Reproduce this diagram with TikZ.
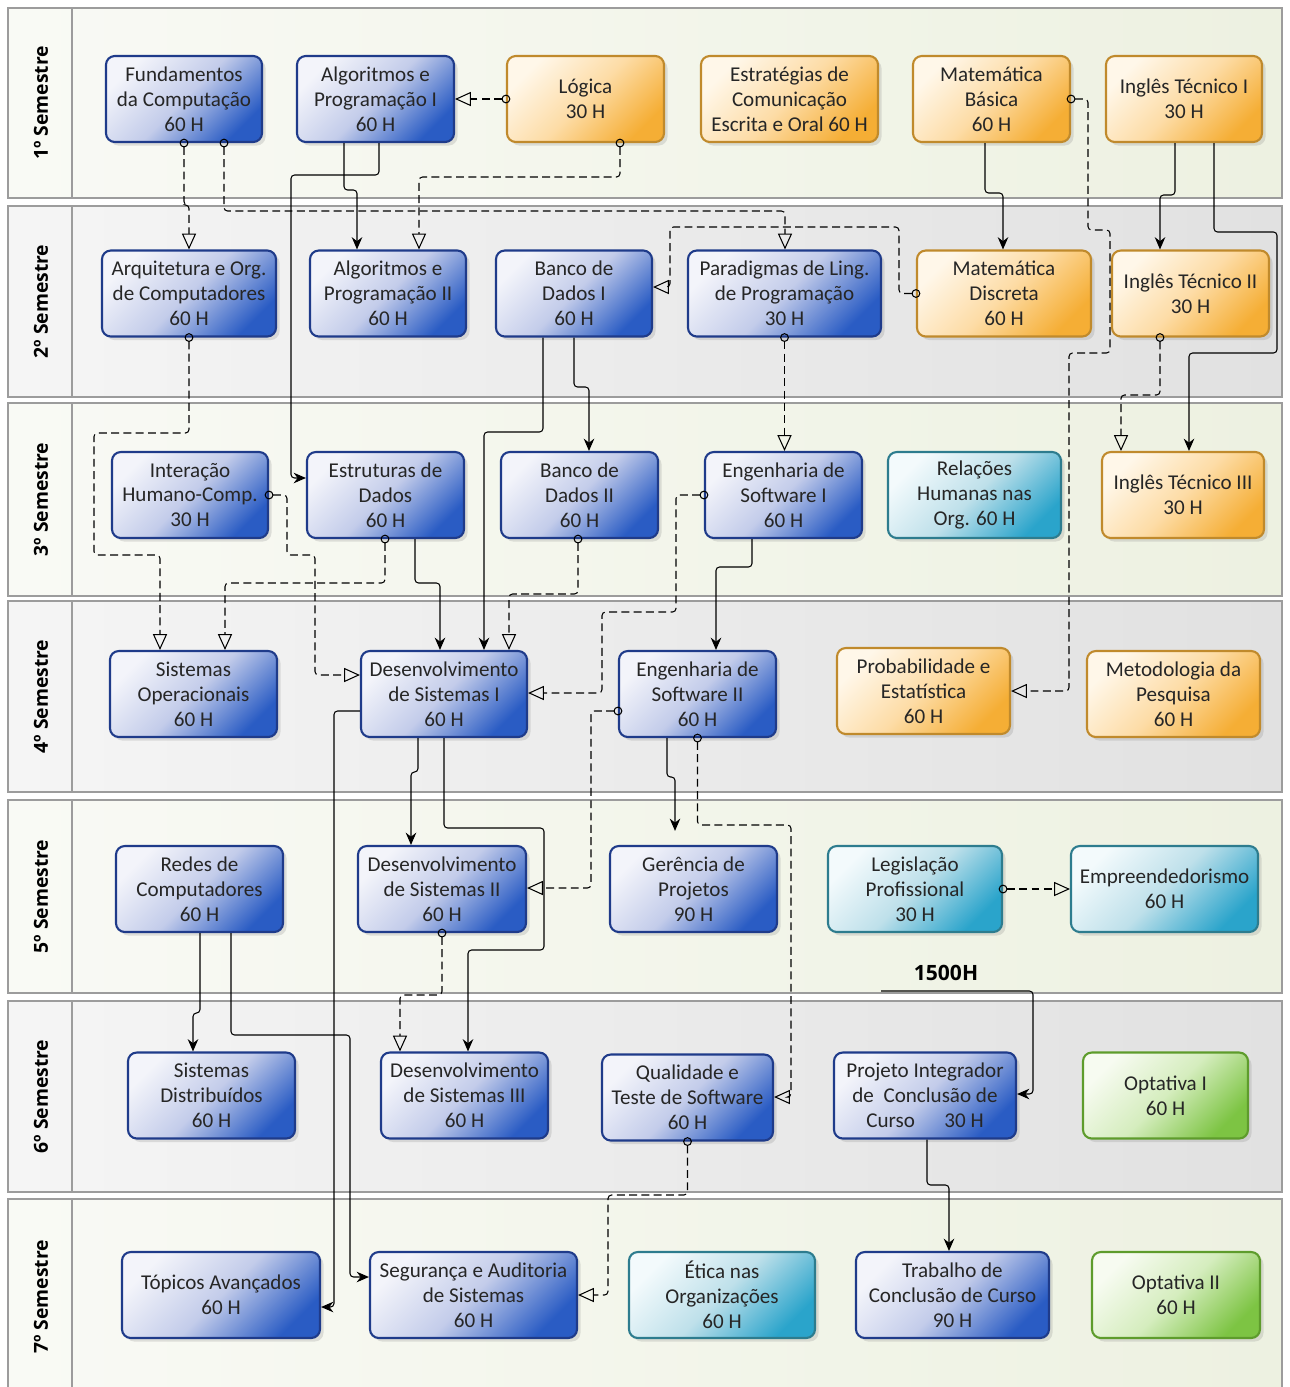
\documentclass[tikz,border=0pt]{standalone}
\usepackage{fontspec}
\setmainfont{Carlito}
\newfontfamily\semfont{Open Sans}
\usetikzlibrary{arrows.meta,shadows}

\definecolor{bluD}{HTML}{1F3B8A}
\definecolor{bluL}{HTML}{F3F4FA}
\definecolor{bluM}{HTML}{C3CCEA}
\definecolor{bluR}{HTML}{2A5CC4}
\definecolor{orgD}{HTML}{C08A2C}
\definecolor{orgL}{HTML}{FFF7E9}
\definecolor{orgM}{HTML}{FDDCA6}
\definecolor{orgR}{HTML}{F5AE35}
\definecolor{tlD}{HTML}{2D7C8E}
\definecolor{tlL}{HTML}{F3FAFC}
\definecolor{tlM}{HTML}{BEE0EA}
\definecolor{tlR}{HTML}{2AA4CB}
\definecolor{grnD}{HTML}{5E9C2C}
\definecolor{grnL}{HTML}{F7FBF1}
\definecolor{grnM}{HTML}{D5EDBE}
\definecolor{grnR}{HTML}{7DC443}
\definecolor{laneGl}{HTML}{F9FAF5}
\definecolor{laneGr}{HTML}{EDF1E1}
\definecolor{laneCl}{HTML}{F5F5F5}
\definecolor{laneCr}{HTML}{E1E1E1}
\definecolor{laneB}{HTML}{9C9C9C}
\definecolor{txt}{HTML}{262626}

\tikzset{
  lane/.style={draw=laneB, line width=0.8pt},
  semester/.style={rotate=90, font=\semfont\bfseries\fontsize{11}{13}\selectfont},
  wd/.style={minimum width=#1*0.02cm},
  disc/.style={draw, rounded corners=5pt, line width=1.2pt, minimum height=1.72cm,
    align=center, inner sep=2pt, text=txt, font=\fontsize{12}{14.2}\selectfont,
    drop shadow={opacity=0.22, shadow xshift=2pt, shadow yshift=-2pt}},
  blu/.style={disc, draw=bluD, top color=bluL, bottom color=bluR, middle color=bluM, shading angle=45},
  org/.style={disc, draw=orgD, top color=orgL, bottom color=orgR, middle color=orgM, shading angle=45},
  teal/.style={disc, draw=tlD, top color=tlL, bottom color=tlR, middle color=tlM, shading angle=45},
  grn/.style={disc, draw=grnD, top color=grnL, bottom color=grnR, middle color=grnM, shading angle=45},
  pre/.style={draw, line width=0.6pt, rounded corners=2pt, -{Stealth[length=7pt,width=6pt]}},
  co/.style={draw, line width=0.6pt, rounded corners=2pt, dash pattern=on 4.5pt off 2.5pt,
    shorten <=-2.5pt, {Circle[open,length=5pt,width=5pt]}-{Triangle[open,length=9pt,width=8pt]}}
}

\begin{document}
\begin{tikzpicture}[x=0.02cm, y=-0.02cm]
\useasboundingbox (0,0) rectangle (1289,1387);

% semester lanes
\foreach \n/\ya/\yb/\lc/\rc in {1/8/198/laneGl/laneGr, 2/206/397/laneCl/laneCr,
    3/403/596/laneGl/laneGr, 4/601/792/laneCl/laneCr, 5/800/993/laneGl/laneGr,
    6/1001/1192/laneCl/laneCr, 7/1199/1395/laneGl/laneGr}{
  \draw[lane, left color=\lc, right color=\rc] (8,\ya) rectangle (1282,\yb);
  \draw[lane] (72,\ya) -- (72,\yb);
  \node[semester] (sem\n) at (41,{(\ya+\yb)/2}) {\n{}º Semestre};
}

% 1st semester
\node[blu, wd=156] (fc) at (184,99) {Fundamentos\\da Computação\\60 H};
\node[blu, wd=157] (ap1) at (375.5,99) {Algoritmos e\\Programação I\\60 H};
\node[org, wd=157] (log) at (585.5,99) {Lógica\\30 H};
\node[org, wd=177] (est) at (789.5,99) {Estratégias de\\Comunicação\\Escrita e Oral 60 H};
\node[org, wd=157] (matb) at (991.5,99) {Matemática\\Básica\\60 H};
\node[org, wd=156] (ing1) at (1184,99) {Inglês Técnico I\\30 H};

% 2nd semester
\node[blu, wd=174] (arq) at (189,293.5) {Arquitetura e Org.\\de Computadores\\60 H};
\node[blu, wd=156] (ap2) at (388,293.5) {Algoritmos e\\Programação II\\60 H};
\node[blu, wd=156] (bd1) at (574,293.5) {Banco de\\Dados I\\60 H};
\node[blu, wd=193] (plp) at (784.5,293.5) {Paradigmas de Ling.\\de Programação\\30 H};
\node[org, wd=174] (matd) at (1004,293.5) {Matemática\\Discreta\\60 H};
\node[org, wd=157] (ing2) at (1190.5,293.5) {Inglês Técnico II\\30 H};

% 3rd semester
\node[blu, wd=156] (ihc) at (190,495) {Interação\\Humano-Comp.\\30 H};
\node[blu, wd=157] (ed) at (385.5,495) {Estruturas de\\Dados\\60 H};
\node[blu, wd=157] (bd2) at (579.5,495) {Banco de\\Dados II\\60 H};
\node[blu, wd=157] (es1) at (783.5,495) {Engenharia de\\Software I\\60 H};
\node[teal, wd=173] (rh) at (974.5,495) {Relações\\Humanas nas\\Org. 60 H};
\node[org, wd=162] (ing3) at (1183,495) {Inglês Técnico III\\30 H};

% 4th semester
\node[blu, wd=167] (so) at (193.5,694) {Sistemas\\Operacionais\\60 H};
\node[blu, wd=166] (ds1) at (444,694) {Desenvolvimento\\de Sistemas I\\60 H};
\node[blu, wd=157] (es2) at (697.5,694) {Engenharia de\\Software II\\60 H};
\node[org, wd=173] (pe) at (923.5,691) {Probabilidade e\\Estatística\\60 H};
\node[org, wd=173] (mp) at (1173.5,694) {Metodologia da\\Pesquisa\\60 H};

% 5th semester
\node[blu, wd=167] (rc) at (199.5,889) {Redes de\\Computadores\\60 H};
\node[blu, wd=168] (ds2) at (442,889) {Desenvolvimento\\de Sistemas II\\60 H};
\node[blu, wd=167] (gp) at (693.5,889) {Gerência de\\Projetos\\90 H};
\node[teal, wd=174] (lp) at (915,889) {Legislação\\Profissional\\30 H};
\node[teal, wd=187] (emp) at (1164.5,889) {Empreendedorismo\\60 H};

% 6th semester
\node[blu, wd=167] (sd) at (211.5,1095.5) {Sistemas\\Distribuídos\\60 H};
\node[blu, wd=167] (ds3) at (464.5,1095.5) {Desenvolvimento\\de Sistemas III\\60 H};
\node[blu, wd=171] (qts) at (687.5,1097.5) {Qualidade e\\Teste de Software\\60 H};
\node[blu, wd=182] (pi) at (925,1095.5) {Projeto Integrador\\de~ Conclusão de\\Curso\hspace{1.4em}30 H};
\node[grn, wd=165] (op1) at (1165.5,1095.5) {Optativa I\\60 H};

% 7th semester
\node[blu, wd=198] (ta) at (221,1295) {Tópicos Avançados\\60 H};
\node[blu, wd=207] (sa) at (473.5,1295) {Segurança e Auditoria\\de Sistemas\\60 H};
\node[teal, wd=186] (eo) at (722,1295) {Ética nas\\Organizações\\60 H};
\node[blu, wd=193] (tcc) at (952.5,1295) {Trabalho de\\Conclusão de Curso\\90 H};
\node[grn, wd=168] (op2) at (1176,1295) {Optativa II\\60 H};

\node[font=\semfont\bfseries\fontsize{12}{14}\selectfont] (ch) at (946,973) {1500H};
\coordinate (ch0) at (881,991);

% prerequisites
\draw[pre] (ap1.south -| 344,0) -- (344,190) -- (357,190) -- (ap2.north -| 357,0);
\draw[pre] (ap1.south -| 379,0) -- (379,175) -- (291,175) -- (291,478) -- (ed.west |- 0,478);
\draw[pre] (matb.south -| 985,0) -- (985,193) -- (1003,193) -- (matd.north -| 1003,0);
\draw[pre] (ing1.south -| 1175,0) -- (1175,195) -- (1160,195) -- (ing2.north -| 1160,0);
\draw[pre] (ing1.south -| 1214,0) -- (1214,232) -- (1277,232) -- (1277,353) -- (1189,353) -- (ing3.north -| 1189,0);
\draw[pre] (bd1.south -| 543,0) -- (543,432) -- (484,432) -- (ds1.north -| 484,0);
\draw[pre] (bd1.south) -- (574,387) -- (589,387) -- (bd2.north -| 589,0);
\draw[pre] (ed.south -| 415,0) -- (415,583) -- (440,583) -- (ds1.north -| 440,0);
\draw[pre] (es1.south -| 752,0) -- (752,567) -- (716,567) -- (es2.north -| 716,0);
\draw[pre] (ds1.west |- 0,711) -- (334,711) -- (334,1307) -- (ta.east |- 0,1307);
\draw[pre] (ds1.south -| 418,0) -- (418,772) -- (411,772) -- (ds2.north -| 411,0);
\draw[pre] (ds1.south) -- (444,828) -- (544,828) -- (544,950) -- (468,950) -- (ds3.north -| 468,0);
\draw[pre, shorten >=8pt] (es2.south -| 667,0) -- (667,777) -- (675,777) -- (gp.north -| 675,0);
\draw[pre] (rc.south -| 200,0) -- (200,1013) -- (193,1013) -- (sd.north -| 193,0);
\draw[pre] (rc.south -| 231,0) -- (231,1035) -- (350,1035) -- (350,1277) -- (sa.west |- 0,1277);
\draw[pre] (ch0) -- (1033,991) -- (1033,1094) -- (pi.east |- 0,1094);
\draw[pre] (pi.south -| 927,0) -- (927,1185) -- (949,1185) -- (tcc.north -| 949,0);

% co-requisites (dashed)
\draw[co] (log.west) -- (ap1.east);
\draw[co] (fc.south) -- (184,205) -- (189,205) -- (arq.north -| 189,0);
\draw[co] (fc.south -| 224,0) -- (224,211) -- (785,211) -- (plp.north -| 785,0);
\draw[co] (log.south -| 620,0) -- (620,177) -- (419,177) -- (ap2.north -| 419,0);
\draw[co] (matb.east) -- (1088,99) -- (1088,230) -- (1110,230) -- (1110,353) -- (1069,353) -- (1069,691) -- (pe.east);
\draw[co] (matd.west) -- (899,293.5) -- (899,227) -- (670,227) -- (670,287) -- (bd1.east |- 0,287);
\draw[co] (plp.south) -- (plp.south |- es1.north);
\draw[co] (ing2.south -| 1160,0) -- (1160,395) -- (1121,395) -- (ing3.north -| 1121,0);
\draw[co] (arq.south) -- (189,433) -- (94,433) -- (94,555) -- (160,555) -- (so.north -| 160,0);
\draw[co] (ed.south -| 385,0) -- (385,583) -- (225,583) -- (so.north -| 225,0);
\draw[co] (ihc.east) -- (287,495) -- (287,555) -- (315,555) -- (315,675) -- (ds1.west |- 0,675);
\draw[co] (bd2.south -| 578,0) -- (578,594) -- (509,594) -- (ds1.north -| 509,0);
\draw[co] (es1.west) -- (676,495) -- (676,612) -- (602,612) -- (602,693) -- (ds1.east |- 0,693);
\draw[co] (es2.west |- 0,711) -- (591,711) -- (591,888) -- (ds2.east |- 0,888);
\draw[co] (es2.south) -- (697.5,825) -- (791,825) -- (791,1097) -- (qts.east |- 0,1097);
\draw[co] (lp.east) -- (emp.west);
\draw[co] (ds2.south) -- (442,995) -- (400,995) -- (ds3.north -| 400,0);
\draw[co] (qts.south) -- (687.5,1195) -- (608,1195) -- (608,1295) -- (sa.east);
\end{tikzpicture}
\end{document}
